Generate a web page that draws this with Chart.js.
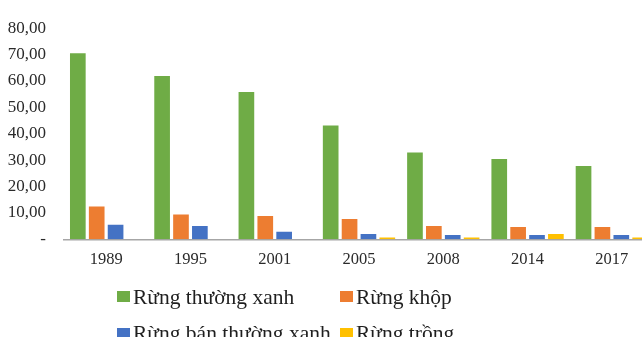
<!DOCTYPE html>
<html>
<head>
<meta charset="utf-8">
<script src="https://cdn.jsdelivr.net/npm/chart.js@4"></script>
<style>
  html, body { margin: 0; padding: 0; background: #fff; overflow: hidden; width: 642px; height: 337px; }
  #wrap { position: relative; width: 660px; height: 337px; }
  #legend { position: absolute; left: 0; top: 0; width: 660px; height: 337px; pointer-events: none;
            font-family: "Liberation Serif", "Times New Roman", serif; font-size: 21.5px; color: #1f1f1f; }
  .item { position: absolute; display: flex; align-items: center; height: 22px; line-height: 22px; white-space: nowrap; }
  .sw { width: 13px; height: 11px; margin-right: 3px; }
</style>
</head>
<body>
<div id="wrap">
  <canvas id="c" width="660" height="337"></canvas>
  <div id="legend"></div>
</div>
<script>
const categories = ['1989', '1995', '2001', '2005', '2008', '2014', '2017'];
const seriesNames = ['Rừng thường xanh', 'Rừng khộp', 'Rừng bán thường xanh', 'Rừng trồng'];
const evergreen = [70.5, 61.9, 55.8, 43.1, 32.9, 30.4, 27.8];
const dipterocarp = [12.4, 9.4, 8.8, 7.7, 5.0, 4.7, 4.7];
const semiEvergreen = [5.5, 5.0, 2.9, 2.0, 1.6, 1.6, 1.6];
const plantation = [0, 0, 0, 0.7, 0.7, 2.0, 0.7];
const yTickLabels = ['-', '10,00', '20,00', '30,00', '40,00', '50,00', '60,00', '70,00', '80,00'];
const colors = ['#6FAC46', '#ED7D31', '#4472C4', '#FFC000'];

const seriesValues = [evergreen, dipterocarp, semiEvergreen, plantation];

const chart = new Chart(document.getElementById('c'), {
  type: 'bar',
  data: {
    labels: categories,
    datasets: seriesValues.map((vals, i) => ({
      label: seriesNames[i],
      data: vals,
      backgroundColor: colors[i],
      borderWidth: 0,
      categoryPercentage: 0.896,
      barPercentage: 0.83
    }))
  },
  options: {
    responsive: false,
    animation: false,
    layout: { padding: { top: 22, bottom: 60, left: 0, right: 6 } },
    plugins: { legend: { display: false }, tooltip: { enabled: false } },
    scales: {
      x: {
        grid: { display: false, drawTicks: false },
        border: { display: true, color: '#a6a6a6', width: 1.5 },
        ticks: { color: '#2a2a2a', padding: 10, font: { family: 'Liberation Serif', size: 16.5 } },
        afterFit: (s) => { s.height = 337 - 60 - 239.3; }
      },
      y: {
        min: 0, max: 80,
        grid: { display: false, drawTicks: false },
        border: { display: false },
        ticks: {
          stepSize: 10, color: '#2a2a2a', padding: 18,
          font: { family: 'Liberation Serif', size: 17 },
          callback: (v) => yTickLabels[Math.round(v / 10)]
        },
        afterFit: (s) => { s.width = 64; }
      }
    }
  }
});

// HTML legend built from chart datasets (2 x 2 grid)
const legend = document.getElementById('legend');
const cols = [117, 340];
const rowsY = [285.5, 322];
chart.data.datasets.forEach((ds, i) => {
  const item = document.createElement('div');
  item.className = 'item';
  item.style.left = cols[i % 2] + 'px';
  item.style.top = rowsY[Math.floor(i / 2)] + 'px';
  const sw = document.createElement('span');
  sw.className = 'sw';
  sw.style.background = ds.backgroundColor;
  const t = document.createElement('span');
  t.textContent = ds.label;
  item.appendChild(sw);
  item.appendChild(t);
  legend.appendChild(item);
});
</script>
</body>
</html>
